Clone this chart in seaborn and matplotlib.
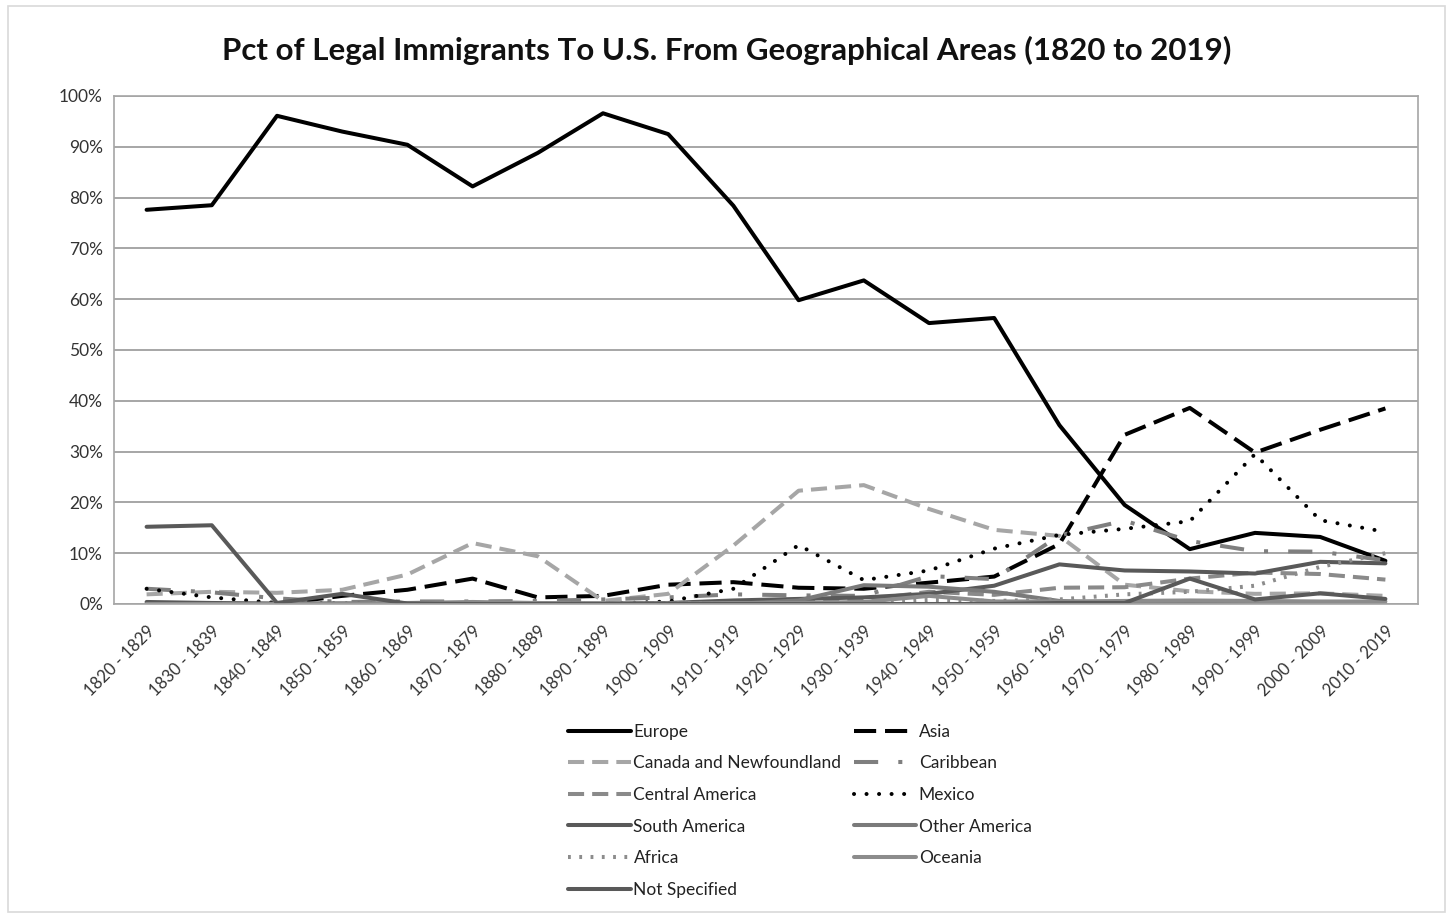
#!/usr/bin/env python3
"""Share of legal immigrants to the U.S. by region, per decade."""

import matplotlib.pyplot as plt
import matplotlib.patches as mpatches
import numpy as np
import pandas as pd
import seaborn as sns

sns.set_style('white')
plt.rcParams['font.family'] = ['Lato', 'DejaVu Sans']

# Decades (category axis)
decades = ['1820 - 1829', '1830 - 1839', '1840 - 1849', '1850 - 1859', '1860 - 1869',
           '1870 - 1879', '1880 - 1889', '1890 - 1899', '1900 - 1909', '1910 - 1919',
           '1920 - 1929', '1930 - 1939', '1940 - 1949', '1950 - 1959', '1960 - 1969',
           '1970 - 1979', '1980 - 1989', '1990 - 1999', '2000 - 2009', '2010 - 2019']

# Percent of immigrants per region
europe = [77.6, 78.5, 96.1, 93.0, 90.4, 82.2, 88.8, 96.6, 92.5, 78.4,
          59.8, 63.7, 55.3, 56.3, 35.2, 19.5, 10.8, 14.0, 13.2, 8.5]
asia = [0.0, 0.0, 0.0, 1.6, 2.8, 5.0, 1.3, 1.6, 3.8, 4.3,
        3.2, 3.0, 4.2, 5.4, 11.8, 33.3, 38.6, 29.8, 34.3, 38.5]
canada = [1.9, 2.4, 2.2, 2.8, 5.8, 12.0, 9.4, 0.6, 2.0, 11.5,
          22.3, 23.4, 18.7, 14.6, 13.4, 3.8, 2.5, 2.0, 2.1, 1.6]
caribbean = [3.0, 2.3, 1.1, 0.4, 0.5, 0.5, 0.6, 0.9, 1.3, 1.9,
             1.7, 1.6, 5.5, 4.9, 13.5, 16.4, 12.4, 10.4, 10.3, 8.6]
central_america = [0.0, 0.0, 0.0, 0.0, 0.0, 0.0, 0.0, 0.0, 0.1, 0.3,
                   0.3, 0.8, 2.4, 1.8, 3.2, 3.3, 5.0, 6.2, 5.9, 4.8]
mexico = [3.0, 1.3, 0.2, 0.1, 0.1, 0.2, 0.1, 0.0, 0.5, 3.0,
          11.6, 4.7, 6.6, 10.9, 13.6, 14.8, 16.3, 29.5, 16.5, 14.2]
south_america = [0.4, 0.2, 0.1, 0.1, 0.1, 0.1, 0.1, 0.1, 0.2, 0.7,
                 1.0, 1.3, 2.0, 3.6, 7.8, 6.6, 6.4, 6.0, 8.3, 8.0]
other_america = [0.0, 0.0, 0.0, 0.0, 0.0, 0.0, 0.0, 0.0, 0.0, 0.0,
                 0.7, 3.7, 3.4, 2.4, 0.6, 0.1, 0.1, 0.0, 0.0, 0.0]
africa = [0.0, 0.0, 0.0, 0.0, 0.0, 0.0, 0.0, 0.0, 0.1, 0.1,
          0.2, 0.2, 0.8, 0.6, 0.9, 1.9, 2.4, 3.6, 7.3, 10.0]
oceania = [0.0, 0.0, 0.0, 0.1, 0.2, 0.4, 0.2, 0.1, 0.1, 0.2,
           0.2, 0.4, 1.6, 0.5, 0.5, 0.6, 0.7, 0.6, 0.5, 0.5]
not_specified = [15.2, 15.5, 0.2, 2.0, 0.1, 0.0, 0.0, 0.0, 0.0, 0.0,
                 0.0, 0.0, 0.0, 0.0, 0.2, 0.2, 5.0, 0.9, 2.1, 1.0]

series = [
    ('Europe', europe, '#000000', '-', 'butt'),
    ('Asia', asia, '#000000', (0, (5.5, 2.2)), 'butt'),
    ('Canada and Newfoundland', canada, '#a6a6a6', (0, (4, 2)), 'butt'),
    ('Caribbean', caribbean, '#7f7f7f', (0, (6, 5, 1, 5)), 'butt'),
    ('Central America', central_america, '#8a8a8a', (0, (4, 2)), 'butt'),
    ('Mexico', mexico, '#000000', (0, (0.01, 3.1)), 'round'),
    ('South America', south_america, '#595959', '-', 'butt'),
    ('Other America', other_america, '#7a7a7a', '-', 'butt'),
    ('Africa', africa, '#8c8c8c', (0, (0.7, 2.1)), 'butt'),
    ('Oceania', oceania, '#8c8c8c', '-', 'butt'),
    ('Not Specified', not_specified, '#595959', '-', 'butt'),
]

fig = plt.figure(figsize=(14.53, 9.18), dpi=100)
ax = fig.add_axes([114 / 1453, 1 - 604 / 918, (1418 - 114) / 1453, (604 - 96) / 918])

x = np.arange(len(decades))
handles = {}
for name, vals, color, ls, cap in series:
    df = pd.DataFrame({'decade': x, 'pct': vals})
    sns.lineplot(data=df, x='decade', y='pct', ax=ax, color=color, linewidth=2.9,
                 linestyle=ls, dash_capstyle=cap, solid_capstyle='round', sort=False)
    handles[name] = ax.lines[-1]

ax.set_xlim(-0.5, len(decades) - 0.5)
ax.set_ylim(0, 100)
ax.set_yticks(np.arange(0, 101, 10))
ax.set_yticklabels([f'{v}%' for v in range(0, 101, 10)], fontsize=12.5)
ax.set_xticks(x)
ax.set_xticklabels(decades, rotation=45, ha='right', rotation_mode='anchor', fontsize=12)
ax.tick_params(axis='y', length=0, pad=8, colors='#333333')
ax.tick_params(axis='x', length=0, pad=14, colors='#333333')
ax.set_xlabel('')
ax.set_ylabel('')
ax.yaxis.grid(True, color='#a6a6a6', linewidth=1.4)
ax.set_axisbelow(True)
for sp in ax.spines.values():
    sp.set_color('#a6a6a6')
    sp.set_linewidth(1.2)

fig.text(727 / 1453, 1 - 50 / 918, 'Pct of Legal Immigrants To U.S. From Geographical Areas (1820 to 2019)',
         ha='center', va='center', fontsize=22.5, fontweight='bold', color='#111111')

# Legend laid out row by row, like the original
order = ['Europe', 'Canada and Newfoundland', 'Central America', 'South America', 'Africa',
         'Not Specified', 'Asia', 'Caribbean', 'Mexico', 'Other America', 'Oceania']
fig.legend([handles[n] for n in order], order, loc='upper center',
           bbox_to_anchor=(800 / 1453, 1 - 708 / 918), ncol=2, frameon=False,
           fontsize=12.5, handlelength=3.6, handletextpad=0.15, columnspacing=0.7,
           labelspacing=0.9, labelcolor='#222222')

# Chart area border
fig.patches.append(mpatches.Rectangle((8 / 1453, 6 / 918), 1437 / 1453, 906 / 918,
                                      transform=fig.transFigure, fill=False,
                                      edgecolor='#d9d9d9', linewidth=1.2))

plt.savefig('out.png', dpi=100)
